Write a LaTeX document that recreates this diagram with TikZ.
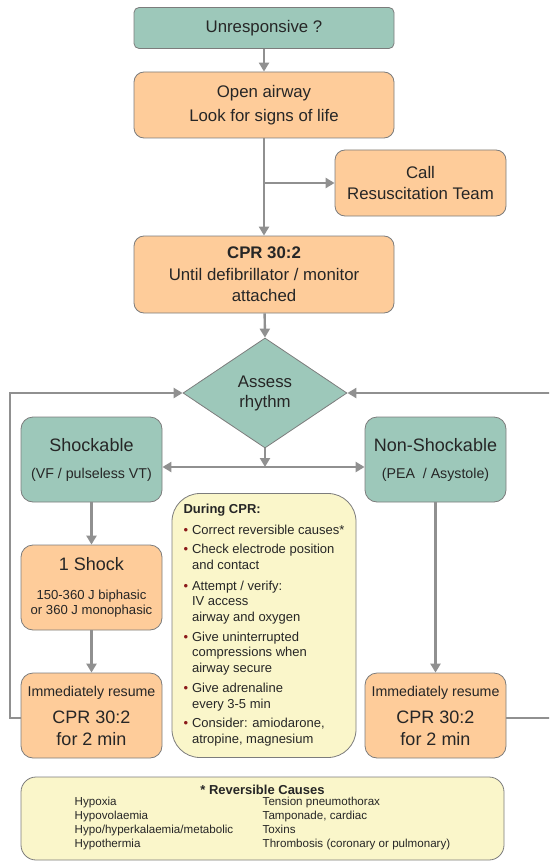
\documentclass[tikz,border=0pt]{standalone}
\usepackage{fontspec}
\setmainfont{Liberation Sans}
\usepackage{array}
\usetikzlibrary{shapes.geometric,arrows.meta}

\definecolor{algoteal}{HTML}{9DC8BA}
\definecolor{algopeach}{HTML}{FECC9A}
\definecolor{algonote}{HTML}{FAF6CA}
\definecolor{boxgray}{HTML}{7C7C7C}
\definecolor{linegray}{HTML}{909090}
\definecolor{txtgray}{HTML}{262626}
\definecolor{dotred}{HTML}{8B1A1A}

\newcommand{\setfs}[2]{\fontsize{#1}{#2}\selectfont}
\newcommand{\dotb}{\textcolor{dotred}{\textbullet}}

\begin{document}
\begin{tikzpicture}[x=1pt, y=-1pt,
  box/.style={rectangle, rounded corners=10pt, draw=boxgray, line width=0.8pt, align=center, inner sep=0pt, text=txtgray},
  tealbox/.style={box, fill=algoteal},
  peachbox/.style={box, fill=algopeach},
  notebox/.style={box, fill=algonote},
  smallbox/.style={minimum width=141pt, minimum height=85pt, rounded corners=12pt},
  flow/.style={draw=linegray, line width=2.4pt, -{Triangle[length=9pt,width=10pt]}}]
  \clip (0,0) rectangle (549,861);
  % Nodes
  \node[tealbox, rounded corners=5pt, minimum width=260pt, minimum height=41pt, font=\setfs{16.8}{20}] (unresp) at (264,28) {Unresponsive ?};
  \node[peachbox, minimum width=260pt, minimum height=66pt, font=\setfs{16.8}{24}] (airway) at (264,105) {Open airway\\Look for signs of life};
  \node[peachbox, minimum width=171pt, minimum height=66pt, font=\setfs{16.8}{21}] (call) at (420.5,183) {Call\\Resuscitation Team};
  \node[peachbox, minimum width=260pt, minimum height=77pt, font=\setfs{16.8}{21.5}] (cpr) at (264,274.5) {\textbf{CPR 30:2}\\Until defibrillator / monitor\\attached};
  \node[diamond, fill=algoteal, draw=boxgray, line width=0.8pt, minimum width=164pt, minimum height=110pt, inner sep=0pt, align=center, text=txtgray, font=\setfs{16.8}{20}] (assess) at (265,393) {Assess\\rhythm};
  \node[tealbox, smallbox, font=\setfs{14.2}{16}] (shock) at (91.5,459.5) {{\setfs{18}{20}Shockable}\\[11pt](VF / pulseless VT)};
  \node[tealbox, smallbox, font=\setfs{14.2}{16}] (nonshock) at (435.5,459.5) {{\setfs{18}{20}Non-Shockable}\\[11pt](PEA \ / Asystole)};
  \node[peachbox, smallbox, font=\setfs{13.1}{15}] (oneshock) at (91.5,587.5) {{\setfs{18}{20}1 Shock}\\[14pt]150-360 J biphasic\\or 360 J monophasic};
  \node[peachbox, smallbox, font=\setfs{18}{22}] (resumeL) at (91.5,715.5) {{\setfs{14.2}{16}Immediately resume}\\[5pt]CPR 30:2\\for 2 min};
  \node[peachbox, smallbox, font=\setfs{18}{22}] (resumeR) at (435.5,715.5) {{\setfs{14.2}{16}Immediately resume}\\[5pt]CPR 30:2\\for 2 min};
  \node[notebox, rounded corners=28pt, minimum width=184pt, minimum height=264pt, font=\setfs{13}{15.7}] (during) at (264,625.5) {%
    \begin{tabular}{@{}l@{\hspace{4pt}}l@{}}
      \multicolumn{2}{@{}l}{\textbf{During CPR:}}\\[4.5pt]
      \dotb & Correct reversible causes*\\[4pt]
      \dotb & Check electrode position\\
            & and contact\\[5pt]
      \dotb & Attempt / verify:\\
            & IV access\\
            & airway and oxygen\\[4pt]
      \dotb & Give uninterrupted\\
            & compressions when\\
            & airway secure\\[4pt]
      \dotb & Give adrenaline\\
            & every 3-5 min\\[4pt]
      \dotb & Consider: amiodarone,\\
            & atropine, magnesium
    \end{tabular}};
  \node[notebox, rounded corners=15pt, minimum width=483pt, minimum height=83pt, font=\setfs{11.6}{14}] (causes) at (262.5,818.5) {%
    {\setfs{13}{15}\textbf{* Reversible Causes}}\\
    \begin{tabular}{@{}p{188pt}@{}l@{}}
      Hypoxia & Tension pneumothorax\\
      Hypovolaemia & Tamponade, cardiac\\
      Hypo/hyperkalaemia/metabolic & Toxins\\
      Hypothermia & Thrombosis (coronary or pulmonary)
    \end{tabular}};
  % Connectors
  \coordinate (split) at (265,467);
  \coordinate (loopL) at (10,718);
  \coordinate (loopR) at (560,718);
  \draw[flow] (unresp) -- (airway);
  \draw[flow] (airway) -- (cpr);
  \draw[flow] (airway.south |- call.west) -- (call.west);
  \draw[flow] (cpr) -- (assess.north);
  \draw[flow] (assess.south) -- (split);
  \draw[flow] (split) -- (shock.east |- split);
  \draw[flow] (split) -- (nonshock.west |- split);
  \draw[flow] (shock) -- (oneshock);
  \draw[flow] (oneshock) -- (resumeL);
  \draw[flow] (nonshock) -- (resumeR);
  \draw[flow] (resumeL.west |- loopL) -- (loopL) |- (assess.west);
  \draw[flow] (resumeR.east |- loopR) -- (loopR) |- (assess.east);
\end{tikzpicture}
\end{document}
